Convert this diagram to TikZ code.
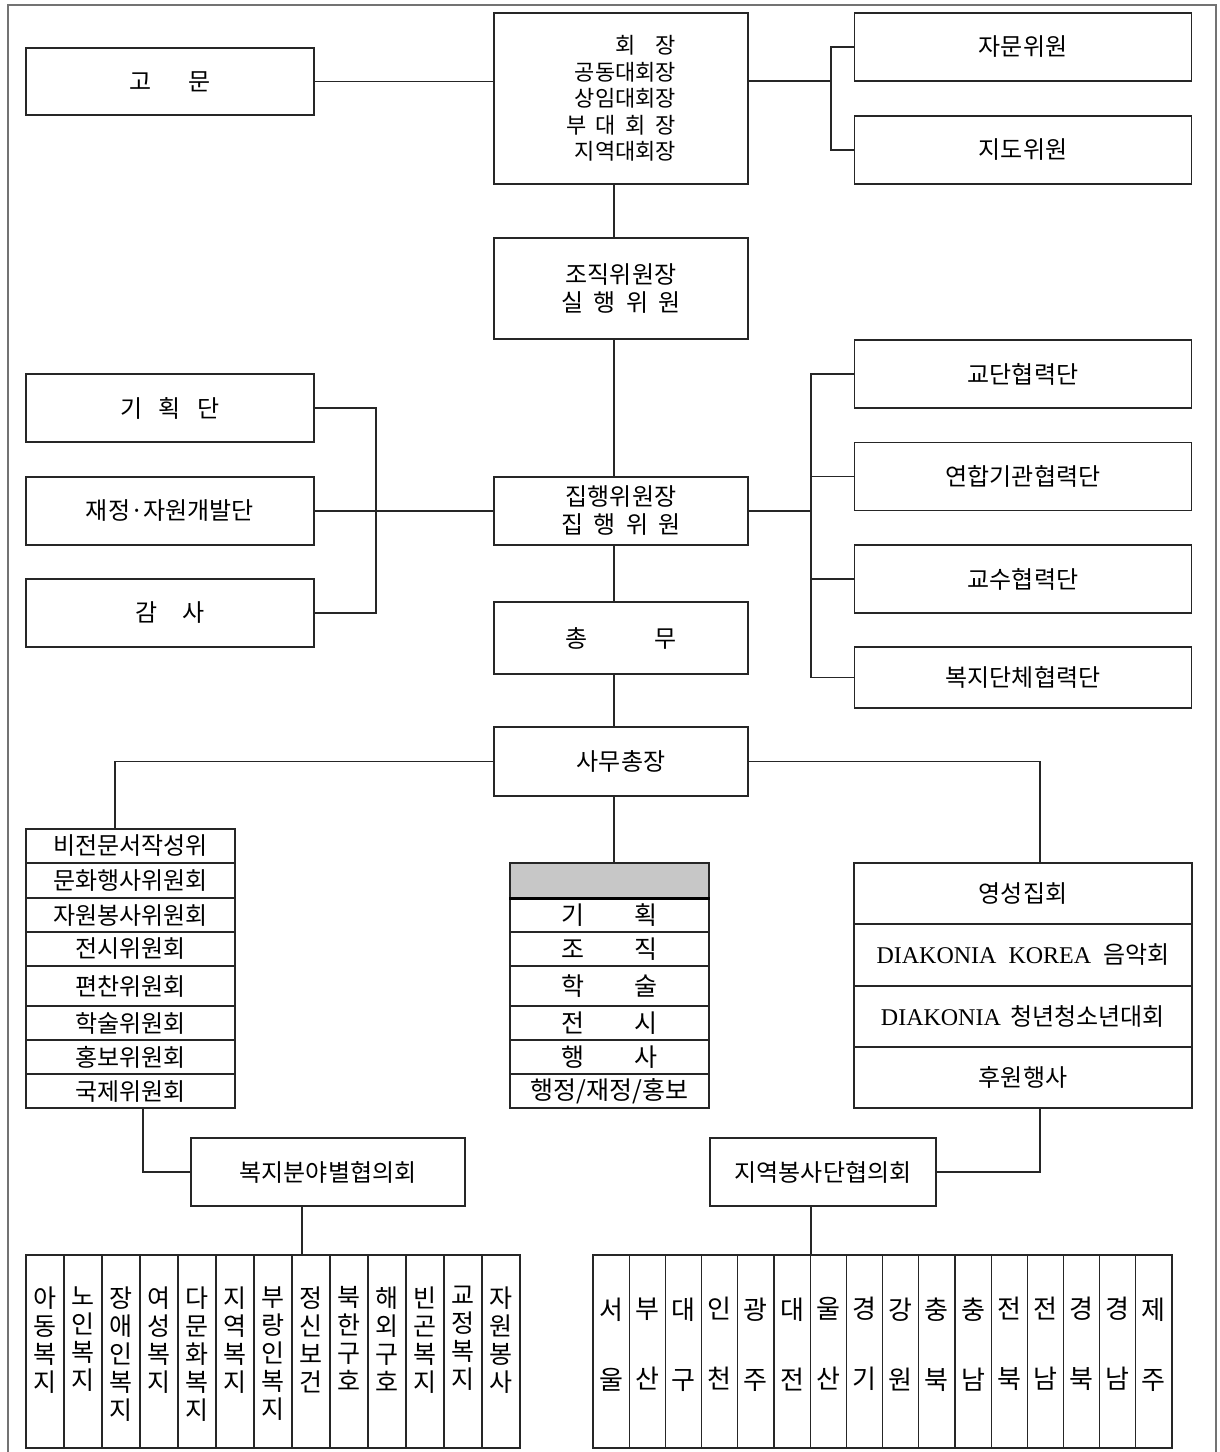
\documentclass[tikz,border=0pt]{standalone}
\usepackage{fontspec}
\setmainfont{Liberation Serif}
\newfontfamily\kr{Noto Sans CJK KR}
\tikzstyle{box}=[draw=black!85, shape=rectangle, line width=1.2pt, inner sep=0pt, align=center, font=\kr\fontsize{24}{28}\selectfont]
\tikzstyle{row}=[box, minimum width=209]
\tikzstyle{mid}=[box, minimum width=199, font=\kr\fontsize{25}{28}\selectfont]
\tikzstyle{grp}=[box, minimum width=338]
\tikzstyle{colL}=[box, minimum width=38, minimum height=193, font=\kr\fontsize{25}{28}\selectfont]
\tikzstyle{colR}=[box, minimum width=36.2, minimum height=193, font=\kr\fontsize{26}{70}\selectfont]
\tikzstyle{con}=[draw=black!85, line width=1.2pt]
\tikzstyle{frame}=[draw=black!55, line width=1.6pt]
\newcommand{\vcol}[2][25pt]{\parbox[c][180pt][t]{36pt}{\centering\vspace*{#1}#2}}

\begin{document}
\begin{tikzpicture}[x=1pt, y=-1pt]
		\useasboundingbox (0,0) rectangle (1219,1452);
		\draw [style=frame] (8,1452) -- (8,5) -- (1216,5) -- (1216,1452);
		\coordinate (100) at (614,0);

		\node [style=box, minimum width=288, minimum height=67] (1) at (170,81.5) {고\hspace{1.5em}문};
		\node [style=box, minimum width=254, minimum height=171, align=right, font=\kr\fontsize{22}{26.5}\selectfont] (2) at (621,98.5) {회\hspace{0.9em}장\\공동대회장\\상임대회장\\\makebox[5em][s]{부 대 회 장}\\지역대회장};
		\node [style=box, minimum width=337, minimum height=68] (3) at (1023,47) {자문위원};
		\node [style=box, minimum width=337, minimum height=68] (4) at (1023,150) {지도위원};

		\node [style=box, minimum width=254, minimum height=101] (5) at (621,288.5) {조직위원장\\\makebox[5em][s]{실 행 위 원}};

		\node [style=box, minimum width=288, minimum height=68] (6) at (170,408) {기\hspace{0.7em}획\hspace{0.7em}단};
		\node [style=box, minimum width=288, minimum height=68] (7) at (170,511) {재정·자원개발단};
		\node [style=box, minimum width=288, minimum height=68] (8) at (170,613) {감\hspace{1em}사};

		\node [style=box, minimum width=254, minimum height=68] (9) at (621,511) {집행위원장\\\makebox[5em][s]{집 행 위 원}};

		\node [style=box, minimum width=337, minimum height=68] (10) at (1023,374) {교단협력단};
		\node [style=box, minimum width=337, minimum height=68] (11) at (1023,476.5) {연합기관협력단};
		\node [style=box, minimum width=337, minimum height=68] (12) at (1023,579) {교수협력단};
		\node [style=box, minimum width=337, minimum height=61] (13) at (1023,677.5) {복지단체협력단};

		\node [style=box, minimum width=254, minimum height=72] (14) at (621,638) {총\hspace{2.8em}무};
		\node [style=box, minimum width=254, minimum height=69] (15) at (621,761.5) {사무총장};

		\node [style=row, minimum height=34] (20) at (130.5,846) {비전문서작성위};
		\node [style=row, minimum height=35] (21) at (130.5,880.5) {문화행사위원회};
		\node [style=row, minimum height=34] (22) at (130.5,915) {자원봉사위원회};
		\node [style=row, minimum height=34] (23) at (130.5,949) {전시위원회};
		\node [style=row, minimum height=40] (24) at (130.5,986) {편찬위원회};
		\node [style=row, minimum height=34] (25) at (130.5,1023) {학술위원회};
		\node [style=row, minimum height=34] (26) at (130.5,1057) {홍보위원회};
		\node [style=row, minimum height=34] (27) at (130.5,1091) {국제위원회};

		\node [style=mid, minimum height=35, fill=black!22] (30) at (609.5,880.5) {};
		\node [style=mid, minimum height=33] (31) at (609.5,915.5) {기\hspace{2em}획};
		\node [style=mid, minimum height=34] (32) at (609.5,949) {조\hspace{2em}직};
		\node [style=mid, minimum height=40] (33) at (609.5,986) {학\hspace{2em}술};
		\node [style=mid, minimum height=34] (34) at (609.5,1023) {전\hspace{2em}시};
		\node [style=mid, minimum height=34] (35) at (609.5,1057) {행\hspace{2em}사};
		\node [style=mid, minimum height=34] (36) at (609.5,1091) {행정/재정/홍보};
		\draw [line width=3pt] (30.south west) to (30.south east);

		\node [style=grp, minimum height=61] (40) at (1023,893.5) {영성집회};
		\node [style=grp, minimum height=62] (41) at (1023,955) {{\rmfamily DIAKONIA\hspace{0.5em}KOREA\hspace{0.5em}}음악회};
		\node [style=grp, minimum height=61] (42) at (1023,1016.5) {{\rmfamily DIAKONIA\hspace{0.4em}}청년청소년대회};
		\node [style=grp, minimum height=61] (43) at (1023,1077.5) {후원행사};

		\node [style=box, minimum width=274, minimum height=68] (50) at (328,1172) {복지분야별협의회};
		\node [style=box, minimum width=226, minimum height=68] (51) at (823,1172) {지역봉사단협의회};

		% fields
		\node [style=colL] (60) at (45,1351.5) {\vcol{아\\동\\복\\지}};
		\node [style=colL] (61) at (83,1351.5) {\vcol{노\\인\\복\\지}};
		\node [style=colL] (62) at (121,1351.5) {\vcol{장\\애\\인\\복\\지}};
		\node [style=colL] (63) at (159,1351.5) {\vcol{여\\성\\복\\지}};
		\node [style=colL] (64) at (197,1351.5) {\vcol{다\\문\\화\\복\\지}};
		\node [style=colL] (65) at (235,1351.5) {\vcol{지\\역\\복\\지}};
		\node [style=colL] (66) at (273,1351.5) {\vcol{부\\랑\\인\\복\\지}};
		\node [style=colL] (67) at (311,1351.5) {\vcol{정\\신\\보\\건}};
		\node [style=colL] (68) at (349,1351.5) {\vcol{북\\한\\구\\호}};
		\node [style=colL] (69) at (387,1351.5) {\vcol{해\\외\\구\\호}};
		\node [style=colL] (70) at (425,1351.5) {\vcol{빈\\곤\\복\\지}};
		\node [style=colL] (71) at (463,1351.5) {\vcol{교\\정\\복\\지}};
		\node [style=colL] (72) at (501,1351.5) {\vcol{자\\원\\봉\\사}};

		% regions
		\node [style=colR] (80) at (611.1,1351.5) {\vcol[36pt]{서\\울}};
		\node [style=colR] (81) at (647.3,1351.5) {\vcol[36pt]{부\\산}};
		\node [style=colR] (82) at (683.5,1351.5) {\vcol[36pt]{대\\구}};
		\node [style=colR] (83) at (719.7,1351.5) {\vcol[36pt]{인\\천}};
		\node [style=colR] (84) at (755.9,1351.5) {\vcol[36pt]{광\\주}};
		\node [style=colR] (85) at (792.0,1351.5) {\vcol[36pt]{대\\전}};
		\node [style=colR] (86) at (828.2,1351.5) {\vcol[36pt]{울\\산}};
		\node [style=colR] (87) at (864.4,1351.5) {\vcol[36pt]{경\\기}};
		\node [style=colR] (88) at (900.6,1351.5) {\vcol[36pt]{강\\원}};
		\node [style=colR] (89) at (936.8,1351.5) {\vcol[36pt]{충\\북}};
		\node [style=colR] (90) at (973.0,1351.5) {\vcol[36pt]{충\\남}};
		\node [style=colR] (91) at (1009.2,1351.5) {\vcol[36pt]{전\\북}};
		\node [style=colR] (92) at (1045.4,1351.5) {\vcol[36pt]{전\\남}};
		\node [style=colR] (93) at (1081.6,1351.5) {\vcol[36pt]{경\\북}};
		\node [style=colR] (94) at (1117.7,1351.5) {\vcol[36pt]{경\\남}};
		\node [style=colR] (95) at (1153.9,1351.5) {\vcol[36pt]{제\\주}};

		\coordinate (101) at (831,81);
		\coordinate (102) at (376,511);
		\coordinate (103) at (811,511);
		\coordinate (104) at (115,829);
		\coordinate (105) at (1040,863);
		\coordinate (106) at (143,1108);
		\coordinate (107) at (1040,1108);
		\coordinate (108) at (302,1255);
		\coordinate (109) at (811,1255);

		\draw [style=con] (1.east) to (1.east -| 2.west);
		\draw [style=con] (2.east |- 101) to (101);
		\draw [style=con] (3.west) -| (101);
		\draw [style=con] (4.west) -| (101);
		\draw [style=con] (100 |- 2.south) to (100 |- 5.north);
		\draw [style=con] (100 |- 5.south) to (100 |- 9.north);
		\draw [style=con] (6.east) -| (102);
		\draw [style=con] (8.east) -| (102);
		\draw [style=con] (7) to (9);
		\draw [style=con] (9.east) to (103);
		\draw [style=con] (10.west) -| (103);
		\draw [style=con] (11.west) -| (103);
		\draw [style=con] (12.west) -| (103);
		\draw [style=con] (13.west) -| (103);
		\draw [style=con] (100 |- 9.south) to (100 |- 14.north);
		\draw [style=con] (100 |- 14.south) to (100 |- 15.north);
		\draw [style=con] (100 |- 15.south) to (100 |- 30.north);
		\draw [style=con] (15.west) -| (104);
		\draw [style=con] (15.east) -| (105);
		\draw [style=con] (106) |- (50.west);
		\draw [style=con] (107) |- (51.east);
		\draw [style=con] (108 |- 50.south) to (108);
		\draw [style=con] (109 |- 51.south) to (109);
	\end{tikzpicture}
\end{document}
